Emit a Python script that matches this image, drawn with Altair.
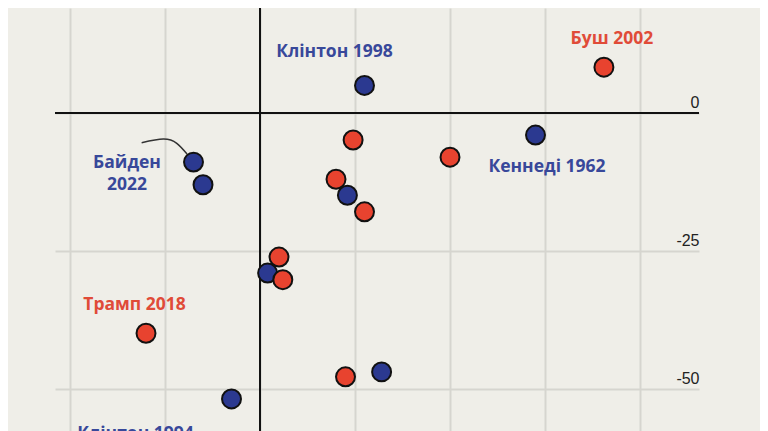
import altair as alt
import pandas as pd

# ---- data ----
names = [
    "Клінтон 1998", "Буш 2002", "Кеннеді 1962", "Рейган 1986", "Буш 1990",
    "Байден 2022", "Обама 2014", "Ніксон 1970", "Картер 1978", "Ейзенхауер 1954",
    "Трумен 1950", "Рейган 1982", "Буш 2006", "Трамп 2018", "Ейзенхауер 1958",
    "Джонсон 1966", "Клінтон 1994",
]
party = ["D", "R", "D", "R", "R", "D", "D", "R", "D", "R", "D", "R", "R", "R", "R", "D", "D"]
approval = [55.5, 68.1, 64.5, 54.9, 60.0, 46.5, 47.0, 54.0, 54.6, 55.5,
            50.4, 51.0, 51.2, 44.0, 54.5, 56.4, 48.5]
seats = [5.0, 8.3, -4.0, -4.9, -8.0, -8.9, -13.0, -12.0, -14.9, -17.9,
         -29.0, -26.1, -30.2, -39.9, -47.8, -46.9, -51.8]

x_grid = [40, 45, 50, 55, 60, 65, 70]
y_ticks = [0, -25, -50]
x_ref = [50]
y_ref = [0]

# connector for the Biden label (data units)
conn_x = [43.77, 44.91, 45.62, 46.16]
conn_y = [-5.38, -4.71, -5.49, -7.43]

df = pd.DataFrame({"name": names, "party": party, "approval": approval, "seats": seats})
conn = pd.DataFrame({"approval": conn_x, "seats": conn_y, "order": list(range(len(conn_x)))})

FILL = {"R": "#e8432f", "D": "#2b3990"}
TEXT = {"R": "#e04b38", "D": "#38489a"}

xscale = alt.Scale(domain=[39.21, 73.105], nice=False, zero=False)
yscale = alt.Scale(domain=[-60.69, 19.02], nice=False, zero=False)
GRID = "#d6d5cf"

X = alt.X("approval:Q", scale=xscale,
          axis=alt.Axis(values=x_grid, grid=True, labels=False, ticks=False,
                        domain=False, title=None, gridColor=GRID, gridWidth=2))
Y = alt.Y("seats:Q", scale=yscale,
          axis=alt.Axis(orient="right", values=y_ticks, grid=True, domain=False,
                        ticks=False, tickSize=0, labelPadding=0, labelAlign="right",
                        labelBaseline="alphabetic", labelOffset=-5,
                        labelFont="Liberation Sans", labelFontSize=16,
                        labelColor="#222222", title=None, gridColor=GRID,
                        gridWidth=2, labelExpr="'' + datum.value"))

base = alt.Chart(df)

vline = alt.Chart(pd.DataFrame({"approval": x_ref})).mark_rule(
    color="#111111", strokeWidth=2).encode(x=X)
hline = alt.Chart(pd.DataFrame({"seats": y_ref})).mark_rule(
    color="#111111", strokeWidth=2).encode(y=Y)

connector = alt.Chart(conn).mark_line(
    color="#333333", strokeWidth=1.5, interpolate="natural").encode(
    x=X, y=Y, order="order:Q")

points = base.mark_circle(size=360, opacity=1, stroke="#111111", strokeWidth=2).encode(
    x=X, y=Y,
    color=alt.Color("party:N", scale=alt.Scale(domain=["R", "D"],
                                               range=[FILL["R"], FILL["D"]]),
                    legend=None),
)

label_specs = [
    ("Клінтон 1998", "Клінтон 1998", -30, -28),
    ("Буш 2002", "Буш 2002", 8, -23),
    ("Кеннеді 1962", "Кеннеді 1962", 11.5, 37),
    ("Байден 2022", "Байден\n2022", -66.5, 6),
    ("Трамп 2018", "Трамп 2018", -11.5, -23),
    ("Клінтон 1994", "Клінтон 1994", -96, 40),
]

labels = []
for key, txt, dx, dy in label_specs:
    p = party[names.index(key)]
    labels.append(
        base.transform_filter(alt.datum.name == key)
        .transform_calculate(lab=f"'{txt}'".replace("\n", "\\n"))
        .mark_text(font="Open Sans", fontWeight=700, fontSize=17.5, color=TEXT[p],
                   align="center", baseline="alphabetic", dx=dx, dy=dy,
                   lineBreak="\n", lineHeight=22)
        .encode(x=X, y=Y, text="lab:N")
    )

chart = alt.layer(vline, hline, connector, points, *labels).properties(
    width=644, height=440,
    autosize="none",
    padding={"left": 47, "top": 0, "right": 61, "bottom": 0},
    background="#efeee8",
).configure_view(stroke=None, fill="#efeee8")

chart.save("out.html", embed_options={"renderer": "svg", "actions": False})
